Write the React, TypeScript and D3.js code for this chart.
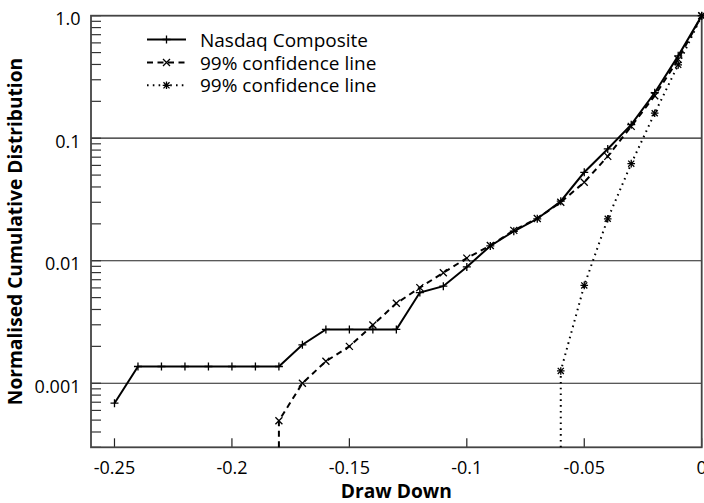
import React from "react";
import * as d3 from "d3";

// ---- data ----
const drawDown = [
  -0.25, -0.24, -0.23, -0.22, -0.21, -0.2, -0.19, -0.18, -0.17, -0.16, -0.15, -0.14, -0.13,
  -0.12, -0.11, -0.1, -0.09, -0.08, -0.07, -0.06, -0.05, -0.04, -0.03, -0.02, -0.01, 0,
];
const nasdaqValues = [
  0.000687, 0.00137, 0.00137, 0.00137, 0.00137, 0.00137, 0.00137, 0.00137, 0.00206, 0.00275,
  0.00275, 0.00275, 0.00275, 0.0055, 0.0062, 0.0089, 0.0132, 0.0174, 0.022, 0.0306, 0.0527,
  0.0817, 0.129, 0.235, 0.47, 1.0,
];
// 0 means the curve drops below the plotted range
const conf1X = [
  -0.18, -0.18, -0.17, -0.16, -0.15, -0.14, -0.13, -0.12, -0.11, -0.1, -0.09, -0.08, -0.07,
  -0.06, -0.05, -0.04, -0.03, -0.02, -0.01, 0,
];
const conf1Values = [
  0, 0.000494, 0.001, 0.00151, 0.002, 0.00299, 0.00449, 0.00603, 0.00798, 0.0105, 0.0133,
  0.0177, 0.0221, 0.03, 0.0437, 0.0711, 0.125, 0.222, 0.44, 1.0,
];
const conf2X = [-0.06, -0.06, -0.05, -0.04, -0.03, -0.02, -0.01, 0];
const conf2Values = [0, 0.00126, 0.00629, 0.022, 0.062, 0.16, 0.397, 1.0];

const xTicks = [-0.25, -0.2, -0.15, -0.1, -0.05, 0];
const xTickLabels = ["-0.25", "-0.2", "-0.15", "-0.1", "-0.05", "0"];
const yTicks = [1, 0.1, 0.01, 0.001];
const yTickLabels = ["1.0", "0.1", "0.01", "0.001"];
const legendLabels = ["Nasdaq Composite", "99% confidence line", "99% confidence line"];
const xTitle = "Draw Down";
const yTitle = "Normalised Cumulative Distribution";

// ---- layout ----
const W = 704;
const H = 503;
const M = { left: 91, right: 2.3, top: 15.7, bottom: 55.7 };
const FONT = "'Open Sans', 'DejaVu Sans', sans-serif";

type Pt = { x: number; y: number };
const zip = (xs: number[], ys: number[]): Pt[] => xs.map((x, i) => ({ x, y: ys[i] }));

export default function App() {
  const x = d3.scaleLinear().domain([-0.26, 0]).range([M.left, W - M.right]);
  const y = d3
    .scaleLog()
    .domain([0.0003, 1])
    .range([H - M.bottom, M.top])
    .clamp(true);

  const line = d3
    .line<Pt>()
    .x((d) => x(d.x))
    .y((d) => y(d.y));

  const nasdaq = zip(drawDown, nasdaqValues);
  const conf1 = zip(conf1X, conf1Values);
  const conf2 = zip(conf2X, conf2Values);

  const minorTicks: number[] = [];
  for (let e = -4; e <= 0; e++) {
    for (let m = 1; m <= 9; m++) {
      const v = m * Math.pow(10, e);
      if (v >= 0.0003 && v <= 1) minorTicks.push(v);
    }
  }

  const plus = (cx: number, cy: number, r: number, key: string) => (
    <path key={key} d={`M${cx - r},${cy}H${cx + r}M${cx},${cy - r}V${cy + r}`} />
  );
  const cross = (cx: number, cy: number, r: number, key: string) => (
    <path key={key} d={`M${cx - r},${cy - r}L${cx + r},${cy + r}M${cx - r},${cy + r}L${cx + r},${cy - r}`} />
  );
  const star = (cx: number, cy: number, r: number, key: string) => (
    <g key={key}>
      {plus(cx, cy, r, "p")}
      {cross(cx, cy, r * 0.8, "c")}
    </g>
  );

  const x0 = M.left;
  const x1 = W - M.right;
  const yB = H - M.bottom;
  const yT = M.top;

  const legendY = [39.5, 62.5, 85.3];
  const lx0 = 147;
  const lx1 = 186;
  const lmid = (lx0 + lx1) / 2;

  return (
    <svg width={W} height={H} style={{ position: "absolute", left: 0, top: 0 }}>
      <rect x={0} y={0} width={W} height={H} fill="#fff" />
      {/* gridlines */}
      {yTicks.slice(1).map((t) => (
        <line key={t} x1={x0} x2={x1} y1={y(t)} y2={y(t)} stroke="#222" strokeWidth={1.2} />
      ))}
      {/* y ticks (minor + major) */}
      {minorTicks.map((t, i) => (
        <line key={i} x1={x0} x2={x0 + 10} y1={y(t)} y2={y(t)} stroke="#333" strokeWidth={1.2} />
      ))}
      {/* x ticks */}
      {xTicks.map((t) => (
        <line key={t} x1={x(t)} x2={x(t)} y1={yB} y2={yB - 9} stroke="#222" strokeWidth={1.2} />
      ))}
      {/* frame */}
      <rect x={x0} y={yT} width={x1 - x0} height={yB - yT} fill="none" stroke="#444" strokeWidth={1.8} />

      {/* series */}
      <path d={line(conf2) || ""} fill="none" stroke="#000" strokeWidth={2} strokeDasharray="1.6 4.2" />
      <path d={line(conf1) || ""} fill="none" stroke="#000" strokeWidth={2} strokeDasharray="6 4.5" />
      <path d={line(nasdaq) || ""} fill="none" stroke="#000" strokeWidth={2} />

      <g stroke="#000" strokeWidth={1.3} fill="none">
        {nasdaq.map((d, i) => plus(x(d.x), y(d.y), 4, "n" + i))}
        {conf1.filter((d) => d.y > 0).map((d, i) => cross(x(d.x), y(d.y), 3.5, "a" + i))}
        {conf2.filter((d) => d.y > 0).map((d, i) => star(x(d.x), y(d.y), 3.8, "b" + i))}
      </g>

      {/* tick labels */}
      <g fontFamily={FONT} fontSize={18} fill="#000">
        {xTicks.map((t, i) => (
          <text key={t} x={x(t)} y={474} textAnchor="middle">
            {xTickLabels[i]}
          </text>
        ))}
        {yTicks.map((t, i) => (
          <text key={t} x={80.5} y={y(t) + 9.5} textAnchor="end">
            {yTickLabels[i]}
          </text>
        ))}
      </g>

      {/* axis titles */}
      <text x={(x0 + x1) / 2} y={497.5} textAnchor="middle" fontFamily={FONT} fontWeight="bold" fontSize={19.2}>
        {xTitle}
      </text>
      <text
        transform={`translate(22,${(yT + yB) / 2}) rotate(-90)`}
        textAnchor="middle"
        fontFamily={FONT}
        fontWeight="bold"
        fontSize={19.2}
      >
        {yTitle}
      </text>

      {/* legend */}
      <g stroke="#000" fill="none">
        <line x1={lx0} x2={lx1} y1={legendY[0]} y2={legendY[0]} strokeWidth={2} />
        <line x1={lx0} x2={lx1} y1={legendY[1]} y2={legendY[1]} strokeWidth={2} strokeDasharray="6 4.5" />
        <line x1={lx0} x2={lx1} y1={legendY[2]} y2={legendY[2]} strokeWidth={2} strokeDasharray="1.6 4.2" />
        <g strokeWidth={1.3}>
          {plus(lmid, legendY[0], 4, "l0")}
          {cross(lmid, legendY[1], 3.5, "l1")}
          {star(lmid, legendY[2], 3.8, "l2")}
        </g>
      </g>
      <g fontFamily={FONT} fontSize={19} fill="#000">
        {legendLabels.map((l, i) => (
          <text key={i} x={200} y={legendY[i] + 7}>
            {l}
          </text>
        ))}
      </g>
    </svg>
  );
}
